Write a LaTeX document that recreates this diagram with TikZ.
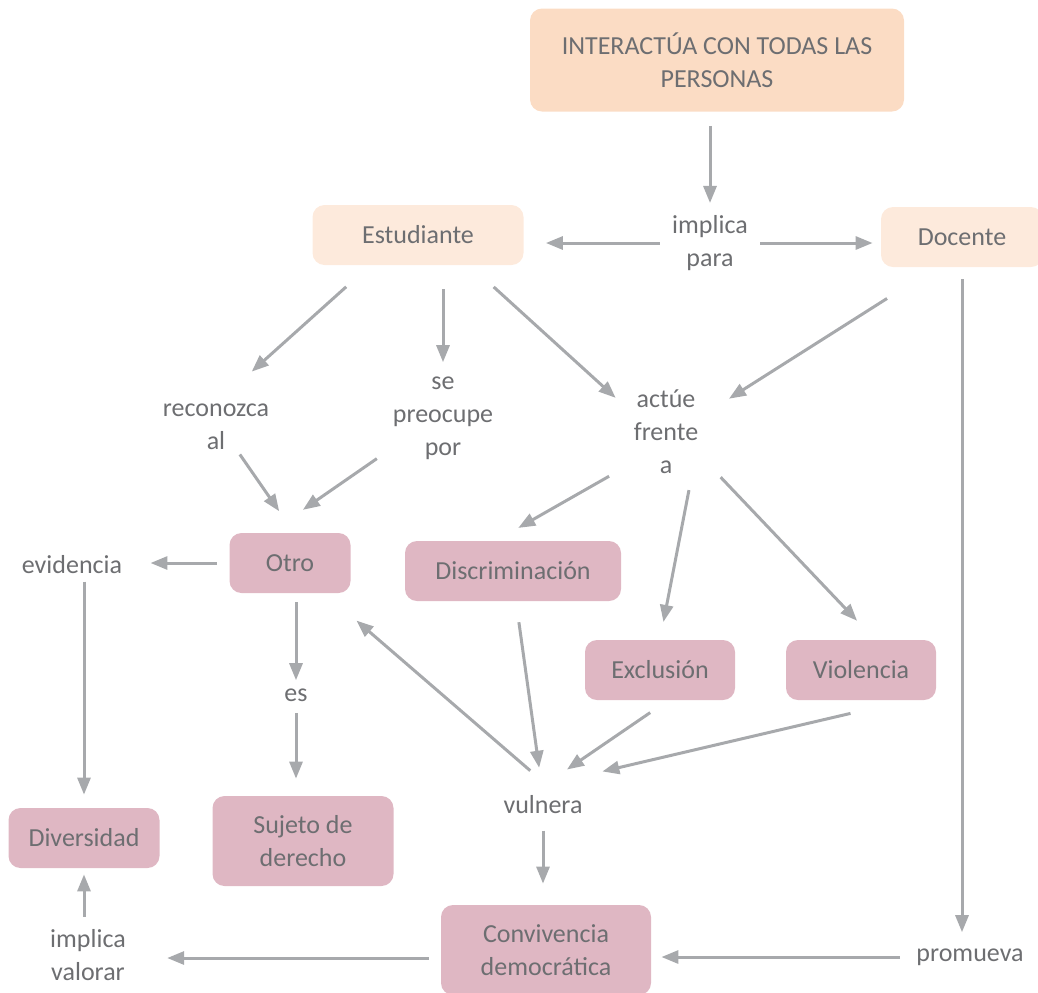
\documentclass[tikz,border=0pt]{standalone}
\usepackage{fontspec}
\setmainfont{Carlito}
\usepackage{xcolor}
\usetikzlibrary{positioning, calc, arrows.meta}

\definecolor{txtgray}{HTML}{6D6E71}
\definecolor{arrgray}{HTML}{A7A9AC}
\definecolor{peachdark}{HTML}{FBDCC4}
\definecolor{peachlight}{HTML}{FDEADC}
\definecolor{rosebox}{HTML}{DFB7C3}

\begin{document}
\begin{tikzpicture}[x=0.5pt, y=-0.5pt,
    every node/.style={font=\fontsize{13}{16.5}\selectfont, text=txtgray, align=center},
    topbox/.style={fill=peachdark, rounded corners=6pt, minimum width=187pt, minimum height=51.5pt},
    rolebox/.style={fill=peachlight, rounded corners=6pt, minimum height=30pt},
    pinkbox/.style={fill=rosebox, rounded corners=6pt, minimum height=30pt},
    word/.style={inner sep=0pt},
    arr/.style={draw=arrgray, line width=1.5pt, -{Triangle[length=8.5pt, width=6.5pt]}}]

    \useasboundingbox (0,0) rectangle (1038,992);

    % Main idea and the two roles
    \node[topbox] (top) at (717,60) {INTERACTÚA CON TODAS LAS\\PERSONAS};
    \node[word] (impl) at (710,243) {implica\\para};
    \node[rolebox, minimum width=105.5pt] (estud) at (418,235) {Estudiante};
    \node[rolebox, minimum width=81pt] (doc) at (962,237) {Docente};

    % Linking words
    \node[word] (reco) at (216,427) {reconozca\\al};
    \node[word] (sepr) at (443,418) {se\\preocupe\\por};
    \node[word] (actu) at (666,432) {actúe\\frente\\a};
    \node[word] (evid) at (72,565) {evidencia};
    \node[word] (es) at (296,695) {es};
    \node[word] (vuln) at (543,805) {vulnera};
    \node[word] (impv) at (88,955) {implica\\valorar};
    \node[word] (prom) at (970,957) {promueva};

    % Concepts
    \node[pinkbox, minimum width=60.5pt] (otro) at (290,563) {Otro};
    \node[pinkbox, minimum width=108pt] (disc) at (513,571) {Discriminación};
    \node[pinkbox, minimum width=75pt] (excl) at (660,670) {Exclusión};
    \node[pinkbox, minimum width=75pt] (viol) at (861,670) {Violencia};
    \node[pinkbox, minimum width=90.5pt, minimum height=45pt] (suje) at (303,841) {Sujeto de\\derecho};
    \node[pinkbox, minimum width=75.5pt] (divs) at (84,838) {Diversidad};
    \node[pinkbox, minimum width=105pt, minimum height=45pt] (conv) at (546,950) {Convivencia\\democrática};

    % Top part
    \draw[arr, shorten <=7pt, shorten >=6pt] (top.south -| impl.north) -- (impl.north);
    \draw[arr, shorten <=6pt, shorten >=11pt] (impl.west) -- (impl.west -| estud.east);
    \draw[arr, shorten <=6pt, shorten >=4pt] (impl.east) -- (impl.east -| doc.west);

    % From Estudiante
    \draw[arr, shorten <=16pt, shorten >=24pt] ([xshift=-24pt]estud.south) -- (reco.north);
    \draw[arr, shorten <=12pt, shorten >=7pt] (estud.south -| sepr.north) -- (sepr.north);
    \draw[arr, shorten <=16pt, shorten >=12pt] ([xshift=26pt]estud.south) -- ([yshift=9pt]actu.west);

    % From Docente
    \draw[arr, shorten <=29pt, shorten >=18pt] ([xshift=-13pt]doc.south) -- ([yshift=7pt]actu.east);
    \draw[arr, shorten <=6pt, shorten >=8pt] (doc.south) -- (doc.south |- prom.north);

    % Towards Otro
    \draw[arr, shorten <=2.5pt, shorten >=13pt] ([xshift=10.5pt]reco.south) -- ([xshift=2pt]otro.north);
    \draw[arr, shorten <=9.5pt, shorten >=20pt] ([yshift=6pt]sepr.south west) -- ([xshift=-10pt]otro.north);

    % actúe frente a
    \draw[arr, shorten <=14pt, shorten >=12.8pt] ([yshift=6pt]actu.south west) -- ([xshift=-8.5pt]disc.north);
    \draw[arr, shorten <=8pt, shorten >=9pt] ([xshift=13pt]actu.south) -- (excl.north);
    \draw[arr, shorten <=16pt, shorten >=13pt] ([yshift=-11pt]actu.east) -- ([xshift=7pt]viol.north);

    % Otro
    \draw[arr, shorten <=6pt, shorten >=14pt] (otro.west) -- (otro.west -| evid.east);
    \draw[arr, shorten <=3.5pt, shorten >=6.5pt] (evid.south -| divs.north) -- (divs.north);
    \draw[arr, shorten <=4.5pt, shorten >=4pt] (otro.south -| es.north) -- (es.north);
    \draw[arr, shorten <=5.5pt, shorten >=8.5pt] (es.south) -- (es.south |- suje.north);

    % vulnera
    \draw[arr, shorten <=19pt, shorten >=20.8pt] ([xshift=8pt]vuln.north) -- ([xshift=17.5pt]otro.south);
    \draw[arr, shorten <=10.5pt, shorten >=14pt] ([xshift=1.5pt]disc.south) -- (vuln.north);
    \draw[arr, shorten <=10.8pt, shorten >=23pt] ([xshift=4pt]excl.south) -- ([xshift=-7pt]vuln.north);
    \draw[arr, shorten <=28.5pt, shorten >=10pt] ([xshift=22.5pt]viol.south) -- ([yshift=14.5pt]vuln.east);
    \draw[arr, shorten <=8pt, shorten >=10.5pt] (vuln.south) -- (vuln.south |- conv.north);

    % Bottom row
    \draw[arr, shorten <=6pt, shorten >=20.5pt] ([yshift=-4pt]conv.west) -- ([yshift=-4pt]conv.west -| impv.east);
    \draw[arr, shorten <=6pt, shorten >=3pt] (impv.north -| divs.south) -- (divs.south);
    \draw[arr, shorten <=8pt, shorten >=5pt] (prom.west) -- (prom.west -| conv.east);

\end{tikzpicture}
\end{document}
